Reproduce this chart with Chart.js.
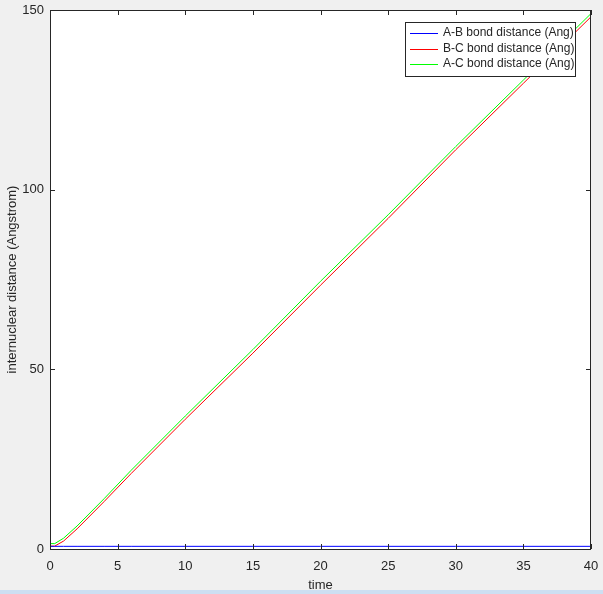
<!DOCTYPE html>
<html>
<head>
<meta charset="utf-8">
<script src="https://cdn.jsdelivr.net/npm/chart.js@4/dist/chart.umd.min.js"></script>
<style>
  html, body { margin: 0; padding: 0; background: #f0f0f0; }
  #wrap { position: relative; width: 603px; height: 594px; }
  #bar { position: absolute; left: 0; bottom: 0; width: 603px; height: 4px; background: #cddff2; }
</style>
</head>
<body>
<div id="wrap">
  <canvas id="distChart" width="603" height="594"></canvas>
  <div id="bar"></div>
</div>
<script>
// данные
const times = [0, 0.35, 1, 2, 4, 6, 10, 15, 20, 25, 30, 35, 40];
const abDist = [0.74, 0.74, 0.74, 0.74, 0.74, 0.74, 0.74, 0.74, 0.74, 0.74, 0.74, 0.74, 0.74];
const bcDist = [0.8, 0.8, 2.2, 5.6, 13.2, 21.0, 36.1, 54.5, 73.4, 92.0, 111.1, 129.6, 148.1];
const acDist = [1.5, 1.5, 3.0, 6.4, 14.0, 21.9, 37.0, 55.5, 74.5, 93.0, 112.0, 130.5, 149.0];
const xTicks = [0, 5, 10, 15, 20, 25, 30, 35, 40];
const yTicks = [0, 50, 100, 150];

const toPoints = ys => times.map((t, i) => ({ x: t, y: ys[i] }));
const textColor = '#262626';
const fontFamily = '"Liberation Sans", Arial, sans-serif';

// рамка, тики внутрь, подписи тиков и легенда в стиле MATLAB
const matlabBox = {
    id: 'matlabBox',
    afterDraw(chart) {
        const { ctx, chartArea: a, scales } = chart;
        ctx.save();
        ctx.strokeStyle = '#262626';
        ctx.lineWidth = 1;
        ctx.strokeRect(a.left + 0.5, a.top + 0.5, a.right - a.left - 1, a.bottom - a.top);
        ctx.beginPath();
        xTicks.forEach(v => {
            const px = Math.round(scales.x.getPixelForValue(v)) + 0.5;
            ctx.moveTo(px, a.bottom); ctx.lineTo(px, a.bottom - 5);
            ctx.moveTo(px, a.top); ctx.lineTo(px, a.top + 5);
        });
        yTicks.forEach(v => {
            const py = Math.round(scales.y.getPixelForValue(v)) + 0.5;
            ctx.moveTo(a.left, py); ctx.lineTo(a.left + 5, py);
            ctx.moveTo(a.right, py); ctx.lineTo(a.right - 5, py);
        });
        ctx.stroke();

        // подписи тиков
        ctx.fillStyle = textColor;
        ctx.font = '13px ' + fontFamily;
        ctx.textBaseline = 'middle';
        ctx.textAlign = 'center';
        xTicks.forEach(v => ctx.fillText(String(v), scales.x.getPixelForValue(v), a.bottom + 17));
        ctx.textAlign = 'right';
        yTicks.forEach(v => ctx.fillText(String(v), a.left - 6, scales.y.getPixelForValue(v)));

        // легенда
        const lx = 405, ly = 22, lw = 170, lh = 54;
        ctx.fillStyle = '#ffffff';
        ctx.fillRect(lx, ly, lw, lh);
        ctx.strokeStyle = '#262626';
        ctx.strokeRect(lx + 0.5, ly + 0.5, lw, lh);
        ctx.font = '12px ' + fontFamily;
        ctx.textAlign = 'left';
        chart.data.datasets.forEach((ds, i) => {
            const y = ly + 11 + i * 15.5;
            ctx.strokeStyle = ds.borderColor;
            ctx.beginPath();
            ctx.moveTo(lx + 5, Math.round(y) + 0.5);
            ctx.lineTo(lx + 33, Math.round(y) + 0.5);
            ctx.stroke();
            ctx.fillStyle = textColor;
            ctx.fillText(ds.label, lx + 38, y);
        });
        ctx.restore();
    }
};

const plotBackground = {
    id: 'plotBackground',
    beforeDraw(chart) {
        const { ctx, chartArea: a } = chart;
        ctx.save();
        ctx.fillStyle = '#f0f0f0';
        ctx.fillRect(0, 0, chart.width, chart.height);
        ctx.fillStyle = '#ffffff';
        ctx.fillRect(a.left, a.top, a.right - a.left, a.bottom - a.top);
        ctx.restore();
    }
};

const ctx = document.getElementById('distChart').getContext('2d');
new Chart(ctx, {
    type: 'line',
    data: {
        datasets: [
            { label: 'A-B bond distance (Ang)', data: toPoints(abDist), borderColor: '#0000ff' },
            { label: 'B-C bond distance (Ang)', data: toPoints(bcDist), borderColor: '#ff0000' },
            { label: 'A-C bond distance (Ang)', data: toPoints(acDist), borderColor: '#00ff00' }
        ]
    },
    options: {
        responsive: false,
        animation: false,
        layout: { padding: { top: 10, right: 12, left: 0, bottom: 0 } },
        elements: {
            line: { borderWidth: 1, tension: 0, fill: false },
            point: { radius: 0 }
        },
        plugins: { legend: { display: false }, tooltip: { enabled: false } },
        scales: {
            x: {
                type: 'linear',
                min: 0, max: 40,
                afterFit: s => { s.height = 45; },
                afterBuildTicks: s => { s.ticks = xTicks.map(v => ({ value: v })); },
                grid: { display: false, drawTicks: false },
                border: { display: false },
                ticks: { display: false },
                title: { display: true, text: 'time', color: textColor, font: { family: fontFamily, size: 13 }, padding: { top: 0, bottom: 1 } }
            },
            y: {
                type: 'linear',
                min: 0, max: 150,
                afterFit: s => { s.width = 50; },
                afterBuildTicks: s => { s.ticks = yTicks.map(v => ({ value: v })); },
                grid: { display: false, drawTicks: false },
                border: { display: false },
                ticks: { display: false },
                title: { display: true, text: 'internuclear distance (Angstrom)', color: textColor, font: { family: fontFamily, size: 13 }, padding: { top: 5, bottom: 0 } }
            }
        }
    },
    plugins: [plotBackground, matlabBox]
});
</script>
</body>
</html>
